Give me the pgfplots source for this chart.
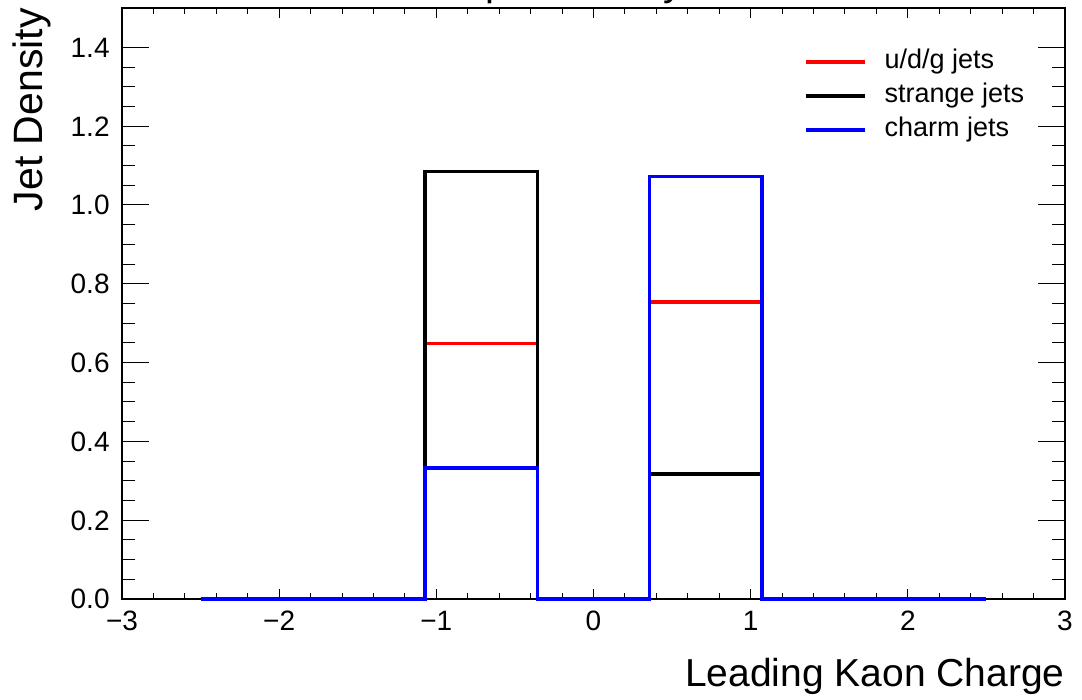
\documentclass[border=0pt]{standalone}
\usepackage{pgfplots}
\pgfplotsset{compat=1.18}
\usepackage{pgfplotstable}
\usepackage{fontspec}
\setmainfont{Liberation Sans}

% Normalised leading-kaon charge per jet flavour; rows are left bin edges,
% the last row closes the final bin.
\pgfplotstableread{
edge     udg    strange  charm
-2.5     0      0        0
-1.7857  0      0        0
-1.0714  0.648  1.085    0.333
-0.3571  0      0        0
0.3571   0.754  0.318    1.072
1.0714   0      0        0
1.7857   0      0        0
2.5      0      0        0
}\kaontable

\begin{document}
\begin{tikzpicture}
\begin{axis}[
  name=ax,
  scale only axis,
  width=471.5pt, height=295.5pt,
  xmin=-3, xmax=3, ymin=0, ymax=1.5,
  clip=false,
  axis line style={line width=1pt},
  xtick={-3,-2,-1,0,1,2,3},
  xticklabels={−3,−2,−1,0,1,2,3},
  ytick={0,0.2,0.4,0.6,0.8,1.0,1.2,1.4},
  yticklabels={0.0,0.2,0.4,0.6,0.8,1.0,1.2,1.4},
  minor x tick num=4,
  minor y tick num=3,
  tick align=inside,
  xtick pos=both, ytick pos=both,
  tick style={black, line width=0.5pt},
  xtick style={/pgfplots/major tick length=5pt, /pgfplots/minor tick length=2.8pt},
  ytick style={/pgfplots/major tick length=13.5pt, /pgfplots/minor tick length=6.5pt},
  ticklabel style={font=\fontsize{14}{14}\selectfont, inner sep=0pt, text height=10pt, text depth=0pt},
  xticklabel style={anchor=north, yshift=-5.5pt},
  yticklabel style={anchor=east, xshift=-6pt},
  legend style={draw=none, fill=none, at={(rel axis cs:0.7233,0.9314)}, anchor=north west,
    inner sep=0pt, outer sep=0pt, row sep=3.5pt, column sep=9pt,
    font=\fontsize{13.5}{13.5}\selectfont,
    nodes={inner sep=0pt, text height=10pt, text depth=3.5pt}},
  legend cell align=left,
  legend image code/.code={\draw[#1, line width=1.8pt] (0pt,0pt) -- (29.5pt,0pt);},
]
\addplot[red, line width=1.8pt, const plot] table[x=edge, y=udg]{\kaontable};
\addlegendentry{u/d/g jets}
\addplot[black, line width=1.8pt, const plot] table[x=edge, y=strange]{\kaontable};
\addlegendentry{strange jets}
\addplot[blue, line width=1.8pt, const plot] table[x=edge, y=charm]{\kaontable};
\addlegendentry{charm jets}
\end{axis}
\node[anchor=base east, inner sep=0pt, font=\fontsize{19.5}{19.5}\selectfont]
  at ([yshift=-44pt]ax.south east) {Leading Kaon Charge};
\node[rotate=90, anchor=base east, inner sep=0pt, font=\fontsize{20.5}{20.5}\selectfont]
  at ([shift={(-39.5pt,0pt)}]ax.north west) {Jet Density};
\node[anchor=base, inner sep=0pt, font=\fontsize{20}{20}\selectfont]
  at ([shift={(223.5pt,6.2pt)}]ax.north west) {Kaon Separation by Flavor};
\pgfresetboundingbox
\useasboundingbox ([shift={(-61pt,-50.5pt)}]ax.south west) rectangle ([shift={(8.5pt,4pt)}]ax.north east);
\end{tikzpicture}
\end{document}
